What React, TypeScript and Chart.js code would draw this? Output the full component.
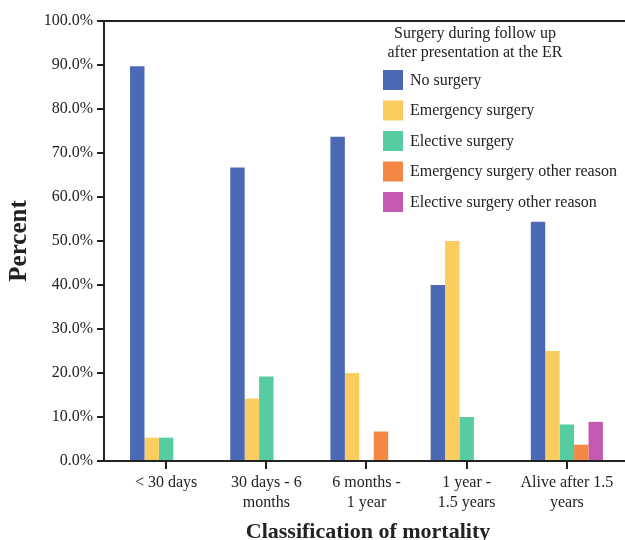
import React, { useEffect, useRef } from 'react';
import { Chart, registerables } from 'chart.js';

Chart.register(...registerables);

const categories: string[][] = [
  ['< 30 days'],
  ['30 days - 6', 'months'],
  ['6 months -', '1 year'],
  ['1 year -', '1.5 years'],
  ['Alive after 1.5', 'years'],
];

const seriesNames = [
  'No surgery',
  'Emergency surgery',
  'Elective surgery',
  'Emergency surgery other reason',
  'Elective surgery other reason',
];

const seriesColors = ['#4B69B4', '#FBCD5F', '#57CCA0', '#F58744', '#C35AAF'];

const noSurgery = [89.7, 66.7, 73.7, 40.0, 54.4];
const emergencySurgery = [5.3, 14.2, 20.0, 50.0, 25.0];
const electiveSurgery = [5.3, 19.2, 0, 10.0, 8.3];
const emergencyOther = [0, 0, 6.7, 0, 3.7];
const electiveOther = [0, 0, 0, 0, 8.9];

const seriesValues = [noSurgery, emergencySurgery, electiveSurgery, emergencyOther, electiveOther];

const legendTitle = ['Surgery during follow up', 'after presentation at the ER'];
const xTitle = 'Classification of mortality';
const yTitle = 'Percent';

const INK = '#222222';
const FONT = '"Liberation Serif", "Times New Roman", serif';

const insideLegend = {
  id: 'insideLegend',
  afterDraw(chart: any) {
    const ctx = chart.ctx as CanvasRenderingContext2D;
    ctx.save();
    ctx.font = `16px ${FONT}`;
    ctx.fillStyle = INK;
    ctx.textAlign = 'center';
    ctx.textBaseline = 'middle';
    legendTitle.forEach((t, i) => ctx.fillText(t, 475, 33.5 + i * 19));
    ctx.textAlign = 'left';
    chart.data.datasets.forEach((ds: any, i: number) => {
      const y = 70 + i * 30.5;
      ctx.fillStyle = ds.backgroundColor;
      ctx.fillRect(383, y, 20, 20);
      ctx.fillStyle = INK;
      ctx.fillText(ds.label, 410, y + 10.5);
    });
    ctx.restore();
  },
};

const topBorder = {
  id: 'topBorder',
  afterDraw(chart: any) {
    const { ctx, chartArea } = chart;
    ctx.save();
    ctx.strokeStyle = INK;
    ctx.lineWidth = 2;
    ctx.beginPath();
    ctx.moveTo(chartArea.left - 7, chartArea.top);
    ctx.lineTo(chartArea.right, chartArea.top);
    ctx.stroke();
    ctx.restore();
  },
};

export default function App() {
  const ref = useRef<HTMLCanvasElement | null>(null);

  useEffect(() => {
    document.body.style.margin = '0';
    if (!ref.current) return;
    Chart.defaults.font.family = FONT;
    Chart.defaults.color = INK;

    const chart = new Chart(ref.current, {
      type: 'bar',
      data: {
        datasets: seriesNames.map((name, s) => ({
          label: name,
          backgroundColor: seriesColors[s],
          borderWidth: 0,
          barPercentage: 1,
          categoryPercentage: 0.72,
          data: seriesValues[s].map((v, i) => ({ x: i, y: v })),
        })),
      },
      options: {
        animation: false,
        responsive: false,
        events: [],
        layout: { padding: { top: 21, right: 0, left: 0, bottom: 0 } },
        plugins: {
          legend: { display: false },
          tooltip: { enabled: false },
        },
        scales: {
          x: {
            type: 'linear',
            min: -0.62,
            max: 4.65,
            offset: false,
            grid: {
              display: true,
              offset: false,
              drawOnChartArea: false,
              drawTicks: true,
              tickLength: 8,
              color: INK,
              lineWidth: 2,
            },
            border: { display: true, color: INK, width: 2 },
            ticks: {
              stepSize: 1,
              includeBounds: false,
              autoSkip: false,
              maxRotation: 0,
              padding: 4,
              color: INK,
              font: { size: 16, lineHeight: 1.25 },
              callback: (v: any) => categories[v] ?? '',
            },
            title: {
              display: true,
              text: xTitle,
              color: INK,
              font: { size: 22, weight: 'bold', lineHeight: 1 },
              padding: { top: 0, bottom: -3 },
            },
            afterFit: (s: any) => {
              s.height = 79;
            },
          },
          y: {
            min: 0,
            max: 100,
            grid: {
              drawOnChartArea: false,
              drawTicks: true,
              tickLength: 7,
              color: INK,
              lineWidth: 2,
            },
            border: { display: true, color: INK, width: 2 },
            ticks: {
              stepSize: 10,
              padding: 4,
              color: INK,
              font: { size: 16 },
              callback: (v: any) => Number(v).toFixed(1) + '%',
            },
            title: {
              display: true,
              text: yTitle,
              color: INK,
              font: { size: 25, weight: 'bold', lineHeight: 1 },
              padding: { top: 7.5, bottom: 0 },
            },
            afterFit: (s: any) => {
              s.width = 104;
            },
          },
        },
      } as any,
      plugins: [insideLegend, topBorder],
    });
    return () => chart.destroy();
  }, []);

  return (
    <div style={{ width: 625, height: 540, overflow: 'hidden' }}>
      <canvas ref={ref} width={632} height={540} style={{ display: 'block' }} />
    </div>
  );
}
